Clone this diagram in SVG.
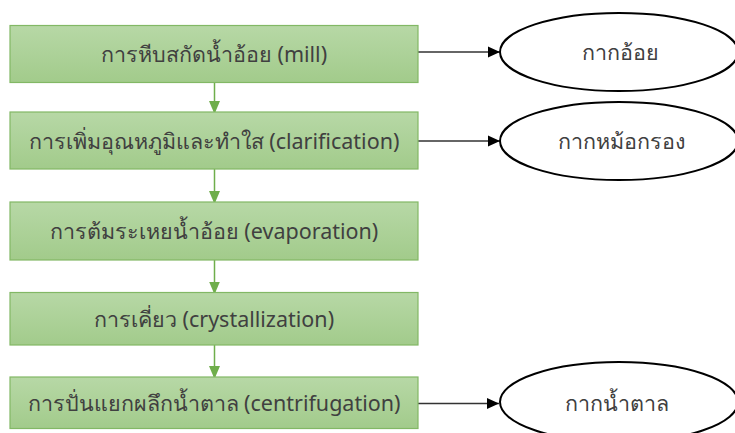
<svg xmlns="http://www.w3.org/2000/svg" width="735" height="433" viewBox="0 0 735 433">
<style>
.box{fill:url(#g);stroke:#82b865;stroke-width:1.2}
.t{font-family:"Noto Sans","Liberation Sans",sans-serif;font-size:21.5px;fill:#404040;text-anchor:middle;dominant-baseline:central}
.ell{fill:#fff;stroke:#000;stroke-width:2}
.ga{stroke:#6fae4b;stroke-width:1.5;fill:none;marker-end:url(#gh)}
.ba{stroke:#333;stroke-width:1.3;fill:none;marker-end:url(#bh)}
</style>
<defs>
<linearGradient id="g" x1="0" y1="0" x2="0" y2="1">
<stop offset="0" stop-color="#b7d8a6"/>
<stop offset="1" stop-color="#a2cb8b"/>
</linearGradient>
<marker id="gh" viewBox="0 0 11 13" refX="11" refY="5.5" markerWidth="11" markerHeight="13" markerUnits="userSpaceOnUse" orient="auto">
<path d="M0,0 L13,5.5 L0,11 Z" fill="#6fae4b"/>
</marker>
<marker id="bh" viewBox="0 0 12 12" refX="12" refY="6" markerWidth="12" markerHeight="12" markerUnits="userSpaceOnUse" orient="auto">
<path d="M0,0.5 L12,6 L0,11.5 Z" fill="#000"/>
</marker>
</defs>
<g id="connectors">
<line class="ga" x1="214.5" y1="82.5" x2="214.5" y2="112"/>
<line class="ga" x1="214.5" y1="169" x2="214.5" y2="202"/>
<line class="ga" x1="214.5" y1="260" x2="214.5" y2="292.5"/>
<line class="ga" x1="214.5" y1="345" x2="214.5" y2="377"/>
<line class="ba" x1="418" y1="52" x2="500" y2="52"/>
<line class="ba" x1="418" y1="141" x2="500" y2="141"/>
<line class="ba" x1="418" y1="403.5" x2="499" y2="403.5"/>
</g>
<g id="n1"><rect class="box" x="10" y="25.5" width="408" height="57"/><text class="t" x="214" y="53">การหีบสกัดน้ำอ้อย (mill)</text></g>
<g id="n2"><rect class="box" x="10" y="112" width="408" height="57"/><text class="t" x="214" y="140">การเพิ่มอุณหภูมิและทำใส (clarification)</text></g>
<g id="n3"><rect class="box" x="10" y="202" width="408" height="58"/><text class="t" x="214" y="230.5">การต้มระเหยน้ำอ้อย (evaporation)</text></g>
<g id="n4"><rect class="box" x="10" y="292.5" width="408" height="52.5"/><text class="t" x="214" y="318.5">การเคี่ยว (crystallization)</text></g>
<g id="n5"><rect class="box" x="10" y="377" width="408" height="51.5"/><text class="t" x="214" y="402.5">การปั่นแยกผลึกน้ำตาล (centrifugation)</text></g>
<g id="e1"><ellipse class="ell" cx="619" cy="52" rx="119" ry="39"/><text class="t" x="620" y="51">กากอ้อย</text></g>
<g id="e2"><ellipse class="ell" cx="619" cy="141" rx="119" ry="39"/><text class="t" x="621" y="140">กากหม้อกรอง</text></g>
<g id="e3"><ellipse class="ell" cx="619" cy="402" rx="119" ry="40"/><text class="t" x="617" y="402">กากน้ำตาล</text></g>
</svg>
